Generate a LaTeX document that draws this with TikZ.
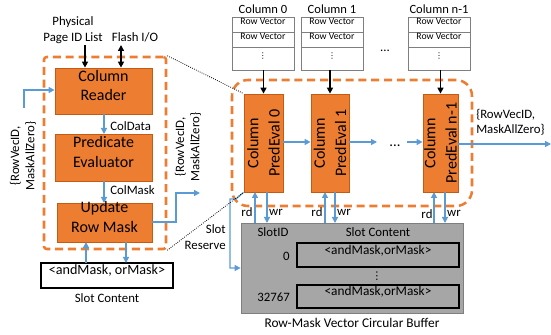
\documentclass[tikz,border=0pt]{standalone}
\usepackage{fontspec}
\setmainfont{Carlito}
\newfontfamily\symfont{DejaVu Sans}
\usetikzlibrary{arrows.meta,fit}
\definecolor{ofill}{HTML}{ED7D31}
\definecolor{oline}{HTML}{C55A11}
\definecolor{flow}{HTML}{5B9BD5}
\definecolor{bufgray}{HTML}{A6A6A6}
\definecolor{bufline}{HTML}{7F7F7F}

\tikzset{
  stage/.style={draw=oline, fill=ofill, line width=0.6pt, inner sep=0pt,
    font=\fontsize{12}{14.5}\selectfont, align=center},
  vstage/.style={inner sep=0pt, font=\fontsize{12}{15.8}\selectfont, align=center, rotate=90},
  zone/.style={draw=ofill, line width=1.9pt, dash pattern=on 6pt off 3.6pt},
  flowarrow/.style={draw=flow, line width=0.9pt, -{Triangle[length=4.5pt,width=4.5pt]}},
  feed/.style={draw=black, line width=1.2pt, -{Triangle[length=4.5pt,width=4.5pt]}},
  cell/.style={draw=bufline, fill=white, line width=0.6pt, inner sep=0pt,
    font=\fontsize{7.3}{8}\selectfont},
  lbl/.style={font=\fontsize{9.6}{11.5}\selectfont, inner sep=0pt, align=center},
  slotbox/.style={draw=black, line width=1pt, inner sep=0pt, fill=white,
    font=\fontsize{10}{12}\selectfont},
  zoomline/.style={densely dotted, line width=0.6pt},
}

\begin{document}
\begin{tikzpicture}[x=0.75pt, y=-0.75pt]
\useasboundingbox (0,0) rectangle (551,335);

% ---------- single-column pipeline (left) ----------
\node[zone, fit={(44,57) (166,249)}, inner sep=0pt, rounded corners=2pt] (lzone) {};
\node[stage, fit={(55,68) (152,114)}] (reader) {Column\\Reader};
\node[stage, fit={(55,134) (152,181)}] (pred) {Predicate\\Evaluator};
\node[stage, fit={(57,203) (152,242)}] (upd) {Update\\Row Mask};

\node[lbl] (phys) at (73,30) {Physical\\Page ID List};
\node[lbl] (flash) at (135,37) {Flash I/O};
\coordinate (physin) at (85,45);
\coordinate (flashio) at (121,45);
\draw[feed] (physin) -- (physin |- reader.north);
\draw[feed, {Triangle[length=4.5pt,width=4.5pt]}-{Triangle[length=4.5pt,width=4.5pt]}] (flashio) -- (flashio |- reader.north);

\draw[flowarrow] (104,114) -- (104,134);
\node[lbl, anchor=west] (coldata) at (110,126) {ColData};
\draw[flowarrow] (104,181) -- (104,203);
\node[lbl, anchor=west] (colmask) at (110,190) {ColMask};

% input tuple
\coordinate (rin) at (24,108);
\draw[flowarrow] (rin) -- (24,90) -- (reader.west |- 0,90);
\node[lbl, rotate=90] (inlbl) at (23,156) {\{RowVecID,\\MaskAllZero\}};

% output tuple
\coordinate (rout) at (200,193);
\draw[flowarrow] (upd.east |- 0,222) -- (176,222) -- (176,193) -- (rout);
\node[lbl, rotate=90] (outlbl) at (188,147) {\{RowVecID,\\MaskAllZero\}};

% slot content box
\node[slotbox, fit={(41,263) (173,288)}, font=\fontsize{10.6}{12}\selectfont] (slotc) {<andMask, orMask>};
\node[lbl] (slotcap) at (107,298) {Slot Content};
\draw[flowarrow] (86,263) -- (86,242);
\draw[flowarrow] (126,242) -- (126,263);

% ---------- column vectors ----------
\foreach \n/\xa/\xb/\t in {c0/232/294/Column 0, c1/301/363/Column 1, cn/408/470/Column n-1}{
  \node[cell, fit={(\xa,17) (\xb,32)}] (\n a) {Row Vector};
  \node[cell, fit={(\xa,32) (\xb,47)}] (\n b) {Row Vector};
  \node[cell, fit={(\xa,47) (\xb,70)}, font=\symfont\fontsize{6}{7}\selectfont] (\n c) {⋮};
  \node[lbl, font=\fontsize{9.4}{11}\selectfont] (\n t) at ({(\xa+\xb)/2},9) {\t};
}
\node[lbl] (cdots) at (385,51) {...};

% ---------- parallel evaluators ----------
\node[zone, fit={(232,80) (472,206)}, inner sep=0pt, rounded corners=12pt] (rzone) {};
\node[stage, fit={(244,94) (283,192)}] (pe0) {};
\node[stage, fit={(311,94) (349,192)}] (pe1) {};
\node[stage, fit={(423,94) (458,192)}] (pen) {};
\node[vstage] (pe0t) at (pe0.center) {Column\\PredEval 0};
\node[vstage] (pe1t) at (pe1.center) {Column\\PredEval 1};
\node[vstage] (pent) at (pen.center) {Column\\PredEval n-1};

\draw[feed] (c0c.south -| pe0.north) -- (pe0.north);
\draw[feed] (c1c.south -| pe1.north) -- (pe1.north);
\draw[feed] (cnc.south -| pen.north) -- (pen.north);

\coordinate (gap1) at (377,142);
\coordinate (gap2) at (407,142);
\draw[flowarrow] (pe0.east |- 0,142) -- (pe1.west |- 0,142);
\draw[flowarrow] (pe1.east |- 0,142) -- (gap1);
\node[lbl, font=\fontsize{11}{12}\selectfont] (pdots) at (395,146) {...};
\draw[flowarrow] (gap2) -- (pen.west |- 0,142);
\coordinate (fout) at (551,144);
\draw[flowarrow] (pen.east |- 0,144) -- (fout);
\node[lbl, anchor=west, align=left] (flbl) at (476,122) {\{RowVecID,\\MaskAllZero\}};

% ---------- circular buffer ----------
\node[fill=bufgray, draw=bufline, line width=0.6pt, inner sep=0pt, fit={(241,223) (463,313)}] (buf) {};
\node[lbl] (sid) at (273,232) {SlotID};
\node[lbl] (scont) at (378,232) {Slot Content};
\node[lbl, anchor=east] (s0) at (290,256) {0};
\node[slotbox, fill=none, fit={(297,243) (459,267)}] (e0) {<andMask,orMask>};
\node[lbl, font=\symfont\fontsize{8}{9}\selectfont] (vd) at (377,276) {⋮};
\node[lbl, anchor=east] (slast) at (290,297) {32767};
\node[slotbox, fill=none, fit={(297,285) (459,308)}] (elast) {<andMask,orMask>};
\node[lbl, font=\fontsize{10}{12}\selectfont] (bufcap) at (352,323) {Row-Mask Vector Circular Buffer};

% read / write ports
\foreach \u/\w in {255/267, 325/335, 434/445}{
  \draw[flowarrow] (\u,223) -- (\u,192);
  \draw[flowarrow] (\w,192) -- (\w,223);
}
\node[lbl] (rd0) at (247,212) {rd};
\node[lbl] (wr0) at (276,212) {wr};
\node[lbl] (rd1) at (317,212) {rd};
\node[lbl] (wr1) at (344,212) {wr};
\node[lbl] (rdn) at (427,214) {rd};
\node[lbl] (wrn) at (454,213) {wr};

% slot reservation
\draw[flowarrow] (pe0.south west) -- (236,199) -- (230,199) -- (230,268) -- (buf.west);
\node[lbl, anchor=east, align=right] (sres) at (226,237) {Slot\\Reserve};

% zoom guides
\draw[zoomline] (lzone.north east) -- (pe0.north west);
\draw[zoomline] (lzone.south east) -- (pe0.south west);
\end{tikzpicture}
\end{document}
